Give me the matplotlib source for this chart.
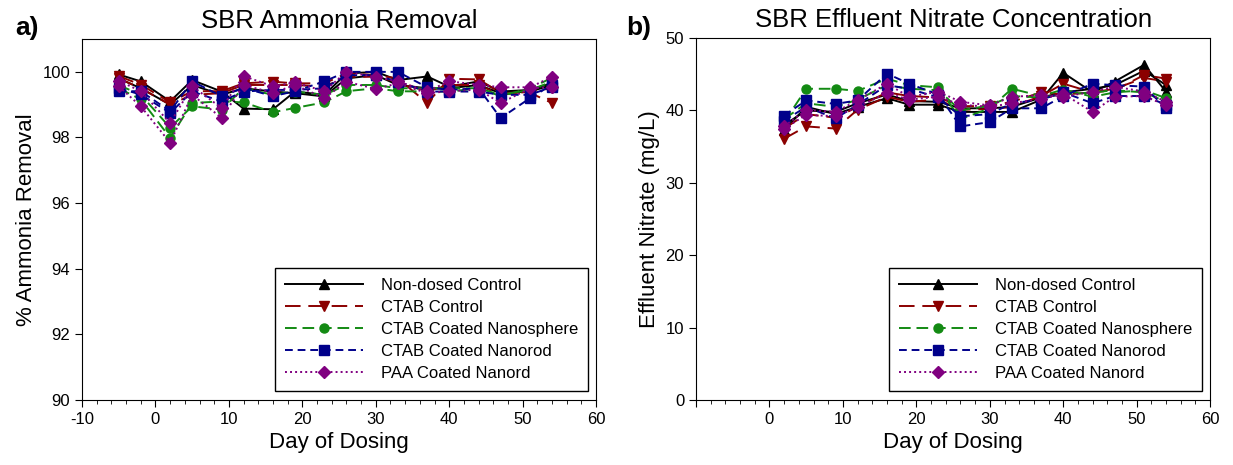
#!/usr/bin/env python3
# -*- coding: utf-8 -*-

import numpy as np

import matplotlib as mpl
mpl.use("Agg")
from matplotlib import pyplot as plt
from matplotlib.ticker import AutoMinorLocator

plt.rcParams["font.family"] = ["Liberation Sans", "DejaVu Sans"]
plt.rcParams["axes.unicode_minus"] = False

# - sampling days
days_a = [-5, -2, 2, 5, 9, 12, 16, 19, 23, 26, 30, 33, 37, 40, 44, 47, 51, 54]
days_b = [2, 5, 9, 12, 16, 19, 23, 26, 30, 33, 37, 40, 44, 47, 51, 54]

labels = [
    "Non-dosed Control", "CTAB Control", "CTAB Coated Nanosphere",
    "CTAB Coated Nanorod", "PAA Coated Nanord",
]

# - ammonia removal (%), two reactors per condition
nh4_ctrl_1 = [99.92, 99.71, 99.10, 99.75, 99.40, 98.88, 98.86, 99.40, 99.30, 99.95, 100.0, 99.75, 99.86, 99.55, 99.71, 99.40, 99.45, 99.66]
nh4_ctrl_2 = [99.80, 99.50, 99.00, 99.60, 99.30, 99.50, 99.40, 99.35, 99.25, 99.80, 99.90, 99.60, 99.50, 99.50, 99.60, 99.35, 99.40, 99.60]
nh4_ctab_1 = [99.87, 99.61, 99.07, 99.41, 99.41, 99.65, 99.70, 99.65, 99.65, 99.95, 99.90, 99.80, 99.05, 99.79, 99.77, 99.36, 99.36, 99.05]
nh4_ctab_2 = [99.80, 99.50, 99.00, 99.30, 99.35, 99.60, 99.60, 99.60, 99.55, 99.85, 99.85, 99.70, 99.40, 99.60, 99.60, 99.30, 99.40, 99.50]
nh4_sph_1 = [99.50, 99.16, 97.99, 99.05, 99.10, 99.07, 98.77, 98.90, 99.07, 99.41, 99.50, 99.41, 99.40, 99.40, 99.50, 99.26, 99.50, 99.82]
nh4_sph_2 = [99.60, 99.30, 98.30, 98.95, 98.85, 99.50, 99.30, 99.40, 99.30, 99.60, 99.60, 99.50, 99.50, 99.50, 99.50, 99.30, 99.45, 99.70]
nh4_rod_1 = [99.41, 99.41, 98.80, 99.71, 99.26, 99.51, 99.26, 99.41, 99.71, 100.0, 100.0, 100.0, 99.53, 99.45, 99.50, 98.59, 99.20, 99.61]
nh4_rod_2 = [99.50, 99.31, 98.75, 99.40, 99.10, 99.40, 99.45, 99.45, 99.50, 99.90, 99.90, 99.70, 99.40, 99.40, 99.40, 99.30, 99.30, 99.55]
nh4_paa_1 = [99.73, 99.41, 98.44, 99.56, 98.90, 99.87, 99.56, 99.68, 99.41, 100.0, 99.84, 99.71, 99.41, 99.71, 99.61, 99.53, 99.53, 99.85]
nh4_paa_2 = [99.56, 98.95, 97.84, 99.30, 98.60, 99.60, 99.36, 99.60, 99.20, 99.70, 99.48, 99.65, 99.35, 99.41, 99.46, 99.05, 99.50, 99.54]

# - effluent nitrate (mg/L), two reactors per condition
no3_ctrl_1 = [37.3, 40.5, 39.5, 40.5, 41.7, 40.8, 40.8, 39.8, 39.8, 39.8, 41.5, 45.2, 42.5, 44.0, 46.3, 42.6]
no3_ctrl_2 = [38.0, 40.0, 39.8, 41.0, 42.2, 41.3, 41.2, 40.3, 40.3, 40.5, 41.8, 42.5, 43.0, 43.5, 45.5, 43.5]
no3_ctab_1 = [36.1, 37.8, 37.5, 40.1, 41.9, 41.2, 41.5, 40.1, 40.2, 40.5, 42.0, 43.7, 42.5, 42.8, 44.9, 44.4]
no3_ctab_2 = [37.5, 39.5, 39.0, 40.5, 42.5, 42.0, 41.8, 40.6, 40.6, 41.2, 42.5, 42.2, 42.5, 43.0, 44.5, 44.0]
no3_sph_1 = [38.4, 43.0, 43.0, 42.7, 44.4, 43.5, 43.2, 38.8, 40.3, 43.0, 42.0, 42.9, 41.9, 42.5, 42.8, 41.7]
no3_sph_2 = [38.8, 41.0, 40.5, 41.5, 43.5, 43.0, 42.8, 40.0, 40.7, 42.0, 41.8, 42.2, 42.5, 42.8, 42.5, 41.2]
no3_rod_1 = [39.3, 41.4, 40.9, 41.4, 45.1, 43.7, 42.2, 37.8, 38.4, 40.3, 40.3, 42.0, 43.7, 43.5, 43.3, 40.3]
no3_rod_2 = [38.6, 40.5, 38.9, 40.8, 43.5, 43.0, 41.8, 39.2, 39.5, 41.0, 41.5, 42.5, 41.0, 42.0, 42.0, 40.8]
no3_paa_1 = [37.8, 40.1, 39.8, 41.4, 43.7, 41.9, 42.6, 41.2, 40.7, 41.9, 42.1, 41.9, 42.6, 43.3, 42.6, 41.2]
no3_paa_2 = [37.5, 39.4, 39.2, 40.5, 42.4, 41.5, 41.9, 40.8, 40.5, 41.0, 41.6, 42.3, 39.8, 41.9, 42.0, 40.7]

styles = [
    dict(color="#000000", ls="-", marker="^"),
    dict(color="#8b0000", ls=(0, (8, 4)), marker="v"),
    dict(color="#138a13", ls=(0, (6, 3)), marker="o"),
    dict(color="#00008b", ls=(0, (4, 2.5)), marker="s"),
    dict(color="#800080", ls=(0, (1, 1.6)), marker="D"),
]


def plot_panel(ax, days, series):
    for i, reps in enumerate(series):
        st = styles[i]
        for j, vals in enumerate(reps):
            ax.plot(
                days, vals, color=st["color"], ls=st["ls"], marker=st["marker"],
                ms=6.5 if st["marker"] != "D" else 6, lw=1.4,
                label=labels[i] if j == 0 else None,
            )
    ax.xaxis.set_minor_locator(AutoMinorLocator(5))
    ax.tick_params(axis="both", which="major", direction="out", length=5, labelsize=12)
    ax.tick_params(axis="x", which="minor", direction="out", length=3)
    ax.set_xlabel("Day of Dosing", fontsize=16)
    leg = ax.legend(
        loc="lower right", bbox_to_anchor=(0.985, 0.025), fontsize=12,
        handlelength=4.7, handletextpad=1.1, labelspacing=0.42,
        fancybox=False, framealpha=1, edgecolor="black", borderpad=0.6,
        borderaxespad=0,
    )
    leg.get_frame().set_linewidth(1.0)


fig = plt.figure(figsize=(12.33, 4.65), dpi=100)
ax1 = fig.add_axes([0.0665, 0.14, 0.417, 0.776])
ax2 = fig.add_axes([0.5645, 0.14, 0.417, 0.778])

# -- ammonia
plot_panel(ax1, days_a, [
    [nh4_ctrl_1, nh4_ctrl_2], [nh4_ctab_1, nh4_ctab_2], [nh4_sph_1, nh4_sph_2],
    [nh4_rod_1, nh4_rod_2], [nh4_paa_1, nh4_paa_2],
])
ax1.set_xlim(-10, 60)
ax1.set_ylim(90, 101)
ax1.set_xticks(np.arange(-10, 61, 10))
ax1.set_yticks(np.arange(90, 101, 2))
ax1.set_ylabel("% Ammonia Removal", fontsize=16)
ax1.set_title("SBR Ammonia Removal", fontsize=18.5, pad=8)

# -- nitrate
plot_panel(ax2, days_b, [
    [no3_ctrl_1, no3_ctrl_2], [no3_ctab_1, no3_ctab_2], [no3_sph_1, no3_sph_2],
    [no3_rod_1, no3_rod_2], [no3_paa_1, no3_paa_2],
])
ax2.set_xlim(-10, 60)
ax2.set_ylim(0, 50)
ax2.set_xticks(np.arange(-10, 61, 10))
ax2.set_xticklabels([""] + [str(v) for v in range(0, 61, 10)])
ax2.set_yticks(np.arange(0, 51, 10))
ax2.set_ylabel("Effluent Nitrate (mg/L)", fontsize=16)
ax2.set_title("SBR Effluent Nitrate Concentration", fontsize=18.5, pad=8)

fig.text(0.012, 0.925, "a)", fontsize=19, fontweight="bold")
fig.text(0.508, 0.925, "b)", fontsize=19, fontweight="bold")

plt.savefig("out.png", dpi=100)
plt.close()
